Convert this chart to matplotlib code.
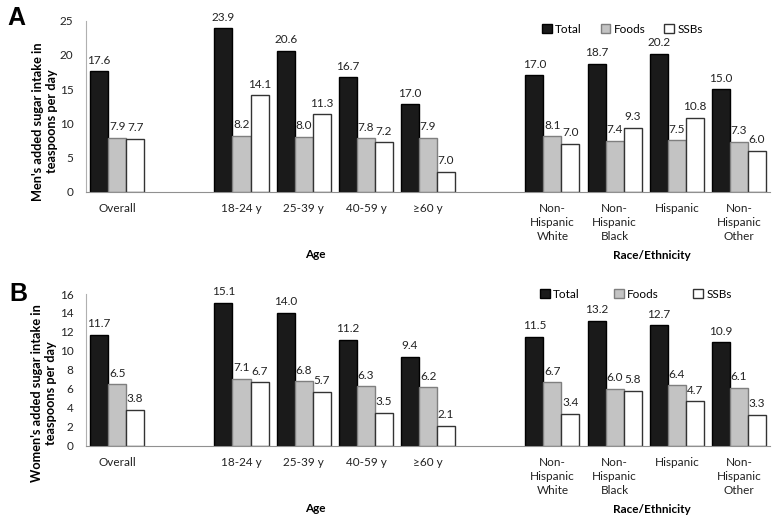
import numpy as np
import matplotlib.pyplot as plt

plt.rcParams['font.family'] = ['Lato', 'DejaVu Sans']

overall = ['Overall']
ages = ['18-24 y', '25-39 y', '40-59 y', '\u226560 y']
races = ['Non-\nHispanic\nWhite', 'Non-\nHispanic\nBlack', 'Hispanic', 'Non-\nHispanic\nOther']

# men: bar heights as drawn, labels as printed (the >=60 y bars disagree with their labels)
men_total = [17.6, 23.9, 20.6, 16.7, 12.8, 17.0, 18.7, 20.2, 15.0]
men_total_lbl = ['17.6', '23.9', '20.6', '16.7', '17.0', '17.0', '18.7', '20.2', '15.0']
men_foods = [7.9, 8.2, 8.0, 7.8, 7.9, 8.1, 7.4, 7.5, 7.3]
men_foods_lbl = ['7.9', '8.2', '8.0', '7.8', '7.9', '8.1', '7.4', '7.5', '7.3']
men_ssbs = [7.7, 14.1, 11.3, 7.2, 2.9, 7.0, 9.3, 10.8, 6.0]
men_ssbs_lbl = ['7.7', '14.1', '11.3', '7.2', '7.0', '7.0', '9.3', '10.8', '6.0']

women_total = [11.7, 15.1, 14.0, 11.2, 9.4, 11.5, 13.2, 12.7, 10.9]
women_foods = [6.5, 7.1, 6.8, 6.3, 6.2, 6.7, 6.0, 6.4, 6.1]
women_ssbs = [3.8, 6.7, 5.7, 3.5, 2.1, 3.4, 5.8, 4.7, 3.3]

series_names = ['Total', 'Foods', 'SSBs']
face = ['#1a1a1a', '#c3c3c3', 'white']
edge = ['black', '#7f7f7f', '#333333']

# one empty slot between groups
groups = [overall, ages, races]
pos = []
p = 0
for g in groups:
    for _ in g:
        pos.append(p)
        p += 1
    p += 1
pos = np.array(pos)
cats = overall + ages + races

fig = plt.figure(figsize=(7.8, 5.25), dpi=100)
axA = fig.add_axes([0.1103, 0.635, 0.877, 0.3256])
axB = fig.add_axes([0.1103, 0.1505, 0.877, 0.2895])

w = 0.29


def panel(ax, vals, lbls, ymax, step, ylabel, label_xy, legend_anchor, colsp):
    for i, (v, l) in enumerate(zip(vals, lbls)):
        x = pos + (i - 1) * w
        ax.bar(x, v, width=w, color=face[i], edgecolor=edge[i], linewidth=1.0,
               label=series_names[i], zorder=2)
        for xi, vi, li in zip(x, v, l):
            ax.annotate(li, (xi, vi), xytext=(0, 4), textcoords='offset points',
                        ha='center', va='bottom', fontsize=8.5, color='#222222')
    ax.set_xlim(-0.5, pos[-1] + 0.5)
    ax.set_ylim(0, ymax)
    ax.set_yticks(np.arange(0, ymax + 0.1, step))
    ax.set_xticks(pos)
    ax.set_xticklabels(cats, linespacing=1.35)
    ax.tick_params(axis='both', length=0, labelsize=8.5, colors='#222222')
    ax.tick_params(axis='x', pad=8)
    ax.tick_params(axis='y', pad=9)
    for s in ['top', 'right']:
        ax.spines[s].set_visible(False)
    ax.spines['left'].set_color('#b0b0b0')
    ax.spines['bottom'].set_color('#909090')
    ax.set_ylabel(ylabel, fontsize=9.2, fontweight='bold', linespacing=1.2)
    ax.yaxis.set_label_coords(*label_xy)
    ax.annotate('Age', (3.18, 0), xycoords='data', xytext=(0, -45),
                textcoords='offset points', ha='center', va='center',
                fontsize=8.5, fontweight='bold')
    ax.annotate('Race/Ethnicity', (8.6, 0), xycoords='data', xytext=(0, -46),
                textcoords='offset points', ha='center', va='center',
                fontsize=8.5, fontweight='bold')
    ax.legend(loc='center left', bbox_to_anchor=legend_anchor, ncol=3, frameon=False,
              fontsize=8.5, handlelength=0.8, handleheight=0.8, handletextpad=0.3,
              columnspacing=colsp, borderaxespad=0)


panel(axA, [men_total, men_foods, men_ssbs],
      [men_total_lbl, men_foods_lbl, men_ssbs_lbl], 25, 5,
      "Men's added sugar intake in\nteaspoons per day", (-0.041, 0.41),
      (0.66, 0.95), 1.6)
panel(axB, [women_total, women_foods, women_ssbs],
      [[f'{v:.1f}' for v in women_total], [f'{v:.1f}' for v in women_foods],
       [f'{v:.1f}' for v in women_ssbs]], 16, 2,
      "Women's added sugar intake in\nteaspoons per day", (-0.043, 0.35),
      (0.657, 1.0), 2.9)

fig.text(0.01, 0.966, 'A', fontsize=18, fontweight='bold', family='Liberation Sans',
         ha='left', va='center')
fig.text(0.012, 0.44, 'B', fontsize=18, fontweight='bold', family='Liberation Sans',
         ha='left', va='center')

fig.savefig('out.png', dpi=100)
